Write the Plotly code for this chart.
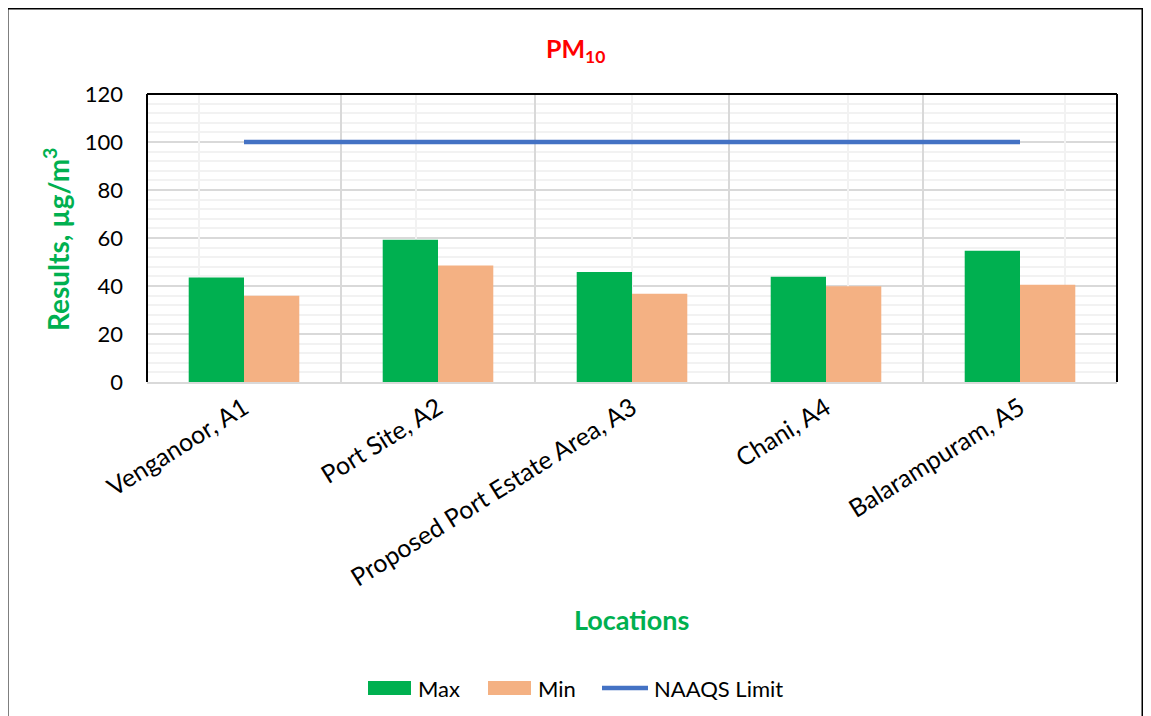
import plotly.graph_objects as go

locations = ["Venganoor, A1", "Port Site, A2", "Proposed Port Estate Area, A3", "Chani, A4", "Balarampuram, A5"]
max_vals = [43.5, 59.3, 45.8, 43.9, 54.7]
min_vals = [35.9, 48.5, 36.8, 39.9, 40.5]
naaqs_limit = [100, 100, 100, 100, 100]
y_ticks = [0, 20, 40, 60, 80, 100, 120]
legend_names = ["Max", "Min", "NAAQS Limit"]

FONT = "Lato"
GREEN = "#00B050"
PEACH = "#F4B183"
BLUE = "#4472C4"

# page body has an 8px margin; compensate so the picture lands where the reference has it
OX, OY = 8, 8
W, H = 1151 - OX, 716 - OY
L, R, T, B = 147 - OX, 1117 - OX, 94 - OY, 382 - OY
pw, ph = R - L, B - T

def px(x):
    return (x - OX - L) / pw

def py(y):
    return (B - (y - OY)) / ph

fig = go.Figure()
fig.add_trace(go.Bar(x=locations, y=max_vals, name=legend_names[0], marker=dict(color=GREEN, line=dict(width=0)), showlegend=False))
fig.add_trace(go.Bar(x=locations, y=min_vals, name=legend_names[1], marker=dict(color=PEACH, line=dict(width=0)), showlegend=False))
fig.add_trace(go.Scatter(x=locations, y=naaqs_limit, name=legend_names[2], mode="lines",
                         line=dict(color=BLUE, width=4.5), showlegend=False))
# invisible trace on overlay axis for light center gridlines
fig.add_trace(go.Scatter(x=locations, y=[None] * 5, xaxis="x2", showlegend=False, hoverinfo="skip"))

fig.update_layout(
    width=W, height=H,
    margin=dict(l=L, r=W - R, t=T, b=H - B),
    paper_bgcolor="white", plot_bgcolor="white",
    barmode="group", bargap=0.43, bargroupgap=0,
    font=dict(family=FONT, color="black"),
    xaxis=dict(type="category", categoryorder="array", categoryarray=locations,
               tickson="boundaries", showgrid=True, gridcolor="#D9D9D9", gridwidth=1.5,
               showline=True, linecolor="#D9D9D9", linewidth=1.5, ticks="",
               tickangle=-32, tickfont=dict(size=25, family=FONT, color="black"),
               zeroline=False),
    xaxis2=dict(type="category", categoryorder="array", categoryarray=locations,
                overlaying="x", showgrid=True, gridcolor="#F2F2F2", gridwidth=1.5,
                showticklabels=False, ticks="", showline=False, zeroline=False),
    yaxis=dict(range=[0, 120], tickvals=y_ticks, showgrid=True, gridcolor="#D9D9D9", gridwidth=1.5,
               minor=dict(dtick=4, showgrid=True, gridcolor="#F2F2F2", gridwidth=1.5),
               ticks="", tickfont=dict(size=22, family=FONT, color="black"),
               ticklabelstandoff=23, zeroline=False, showline=False),
    showlegend=False,
)

fig.add_annotation(text="<b>PM<sub>10</sub></b>", x=px(575), xref="paper", y=py(50), yref="paper",
                   showarrow=False, font=dict(size=25, color="#FF0000", family=FONT), yanchor="middle")
fig.add_annotation(text="<b>Results, µg/m<sup>3</sup></b>", x=px(56), xref="paper", y=py(240), yref="paper",
                   textangle=-90, showarrow=False, font=dict(size=28, color=GREEN, family=FONT),
                   xanchor="center", yanchor="middle")
fig.add_annotation(text="<b>Locations</b>", x=px(631), xref="paper", y=py(619), yref="paper",
                   showarrow=False, font=dict(size=27, color=GREEN, family=FONT),
                   xanchor="center", yanchor="middle")

# legend (drawn manually to get Excel-like wide swatches)
LY = 688
fig.add_shape(type="rect", xref="paper", yref="paper", x0=px(368), x1=px(411), y0=py(681), y1=py(695),
              fillcolor=GREEN, line=dict(width=0))
fig.add_shape(type="rect", xref="paper", yref="paper", x0=px(488), x1=px(531), y0=py(681), y1=py(695),
              fillcolor=PEACH, line=dict(width=0))
fig.add_shape(type="line", xref="paper", yref="paper", x0=px(602), x1=px(648), y0=py(LY), y1=py(LY),
              line=dict(color=BLUE, width=4.5))
for xt, name in zip([416, 536, 652], legend_names):
    fig.add_annotation(text=name, x=px(xt), xref="paper", y=py(LY), yref="paper", showarrow=False,
                       xanchor="left", yanchor="middle", font=dict(size=22, color="black", family=FONT))

# plot area border (left, top, right black)
for x0, y0, x1, y1 in [(0, 0, 0, 1), (0, 1, 1, 1), (1, 0, 1, 1)]:
    fig.add_shape(type="line", xref="paper", yref="paper", x0=x0, y0=y0, x1=x1, y1=y1,
                  line=dict(color="black", width=2), layer="above")
# outer frame
fig.add_shape(type="rect", xref="paper", yref="paper", x0=px(7), x1=px(1143), y0=py(8), y1=py(740),
              line=dict(color="black", width=3), layer="above")

fig.write_html("out.html")
